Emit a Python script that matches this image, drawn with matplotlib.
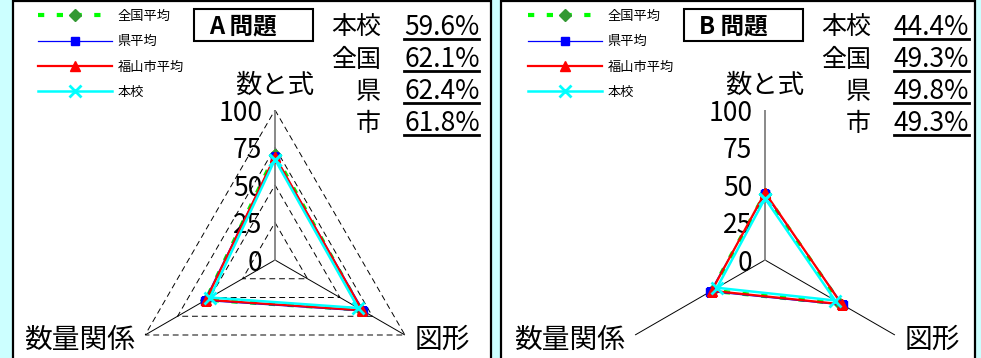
import numpy as np
import matplotlib
matplotlib.use("Agg")
import matplotlib.pyplot as plt
from matplotlib.patches import Rectangle
from matplotlib.lines import Line2D

plt.rcParams['font.family'] = ['Noto Sans CJK JP', 'DejaVu Sans']

# categories clockwise from the top
categories = ['数と式', '図形', '数量関係']
ticks = [0, 25, 50, 75, 100]
series_names = ['全国平均', '県平均', '福山市平均', '本校']

# A問題
zenkoku_a = [70, 66, 53]
ken_a = [69, 68, 54]
shi_a = [69, 67, 53]
honkou_a = [67, 64, 50]
# B問題
zenkoku_b = [44, 58, 41]
ken_b = [44, 60, 42]
shi_b = [45, 59, 41]
honkou_b = [41, 54, 37]

summary_labels = ['本校', '全国', '県', '市']
summary_a = ['59.6%', '62.1%', '62.4%', '61.8%']
summary_b = ['44.4%', '49.3%', '49.8%', '49.3%']

W, H = 981, 358
R = 150
CY = 260

fig = plt.figure(figsize=(W / 100, H / 100), dpi=100)
fig.patch.set_facecolor('#CCFFFF')


def fx(x):
    return x / W


def fy(y):
    return 1 - y / H


def draw_panel(cx, left, right, title, data, summary, grid):
    # white panel with black frame
    fig.patches.append(Rectangle((fx(left), -0.1), fx(right - left), 1.1 - 1 / H,
                                 transform=fig.transFigure, facecolor='white',
                                 edgecolor='black', lw=1.6, zorder=-1))

    ax = fig.add_axes([fx(cx - R), (H - CY - R) / H, 2 * R / W, 2 * R / H],
                      projection='polar')
    ax.set_theta_offset(np.pi / 2)
    ax.set_theta_direction(-1)
    ax.set_ylim(0, 100)
    ax.set_axis_off()

    angles = np.deg2rad([0, 120, 240])
    closed = np.append(angles, angles[0])

    if grid:
        for lev in ticks[1:]:
            ax.plot(closed, [lev] * 4, color='black', lw=0.7,
                    ls=(0, (6, 4)), zorder=1)
    for a in angles[1:]:
        ax.plot([a, a], [0, 100], color='black', lw=0.7, zorder=1)
    ax.plot([0, 0], [0, 100], color='#808080', lw=1.3, zorder=1)

    zen, ken, shi, hon = data
    l1, = ax.plot(closed, zen + zen[:1], color='#00FF00', lw=3, ls=(0, (1.5, 3)),
                  marker='D', ms=6, mfc='#339933', mec='#339933', zorder=3)
    l2, = ax.plot(closed, ken + ken[:1], color='#0000FF', lw=0.9,
                  marker='s', ms=6, zorder=4)
    l3, = ax.plot(closed, shi + shi[:1], color='#FF0000', lw=1.6,
                  marker='^', ms=7, zorder=5)
    l4, = ax.plot(closed, hon + hon[:1], color='#00FFFF', lw=1.8,
                  marker='x', ms=8, mew=2, zorder=6)

    for v in ticks:
        ax.annotate(str(v), xy=(0, v), xytext=(-9, -2.5), textcoords='offset points',
                    ha='right', va='center', fontsize=19)

    ax.annotate(categories[0], xy=(0, 100), xytext=(0, 17.5),
                textcoords='offset points', ha='center', va='center', fontsize=19)
    ax.annotate(categories[1], xy=(angles[1], 100), xytext=(7, -3.6),
                textcoords='offset points', ha='left', va='center', fontsize=20)
    ax.annotate(categories[2], xy=(angles[2], 100), xytext=(-7, -3.6),
                textcoords='offset points', ha='right', va='center', fontsize=20)

    fig.legend([l1, l2, l3, l4], series_names, loc='upper left',
               bbox_to_anchor=(fx(cx - 237), fy(10)), frameon=False,
               fontsize=9.5, handlelength=5.6, handletextpad=0.45,
               labelspacing=0.93, borderpad=0, borderaxespad=0)

    # title box
    fig.patches.append(Rectangle((fx(cx - 81), fy(41)), fx(119), 32 / H,
                                 transform=fig.transFigure, facecolor='none',
                                 edgecolor='black', lw=1.5))
    fig.text(fx(cx - 66), fy(33), title, fontsize=17, fontweight='bold',
             ha='left', va='baseline')

    # overall correct rates
    for i, (lab, val) in enumerate(zip(summary_labels, summary)):
        base = 35 + 32 * i
        fig.text(fx(cx + 106), fy(base), lab, fontsize=18, ha='right', va='baseline')
        fig.text(fx(cx + 129), fy(base), val, fontsize=19, ha='left', va='baseline')
        fig.lines.append(Line2D([fx(cx + 129), fx(cx + 204)], [fy(base + 4)] * 2,
                                transform=fig.transFigure, color='black', lw=2))


draw_panel(275, 13, 491, 'A 問題', [zenkoku_a, ken_a, shi_a, honkou_a], summary_a, True)
draw_panel(765, 501, 975, 'B 問題', [zenkoku_b, ken_b, shi_b, honkou_b], summary_b, False)

fig.savefig('out.png', dpi=100, facecolor=fig.get_facecolor())
